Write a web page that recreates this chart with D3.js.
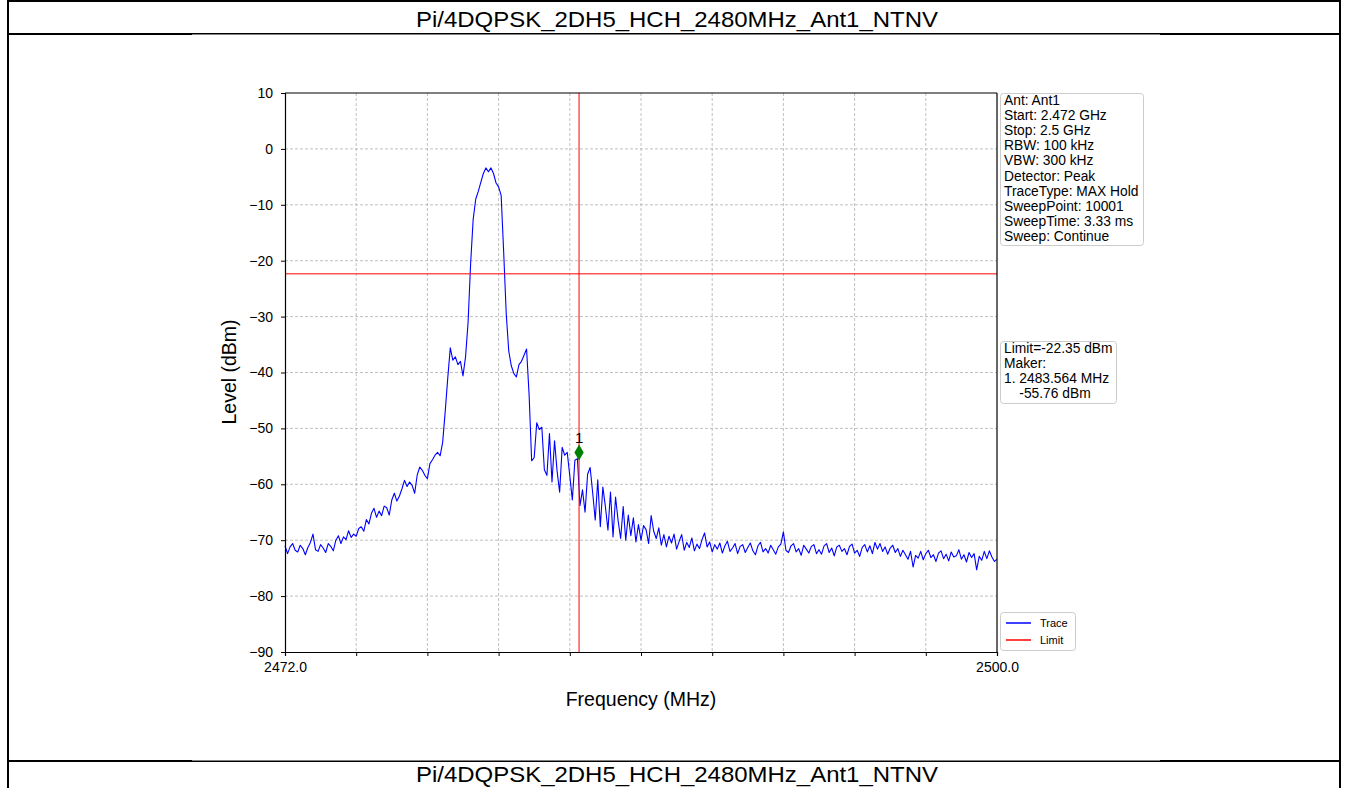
<!DOCTYPE html>
<html><head><meta charset="utf-8">
<script src="https://cdn.jsdelivr.net/npm/d3@7"></script>
<style>
body{margin:0;background:#fff}
svg{display:block;font-family:"Liberation Sans",Arial,sans-serif}
</style>
</head><body>
<svg id="c" width="1348" height="788"></svg>
<script>
// ---------------- data ----------------
const titleText = "Pi/4DQPSK_2DH5_HCH_2480MHz_Ant1_NTNV";
const freqStart = 2472.0;
const freqStep = 0.1; // MHz between trace samples
const traceLevels = [
// 2472.x
-71.0,-72.4,-71.2,-70.6,-71.8,-72.1,-70.9,-71.5,-72.6,-71.3,
// 2473.x
-70.4,-68.9,-71.7,-72.0,-70.8,-71.4,-72.2,-70.6,-71.1,-71.9,
// 2474.x
-70.0,-69.2,-70.6,-69.4,-69.9,-68.3,-69.5,-68.9,-69.3,-67.9,
// 2475.x
-67.6,-68.4,-66.3,-67.1,-65.2,-64.3,-65.9,-64.8,-65.6,-63.9,
// 2476.x
-64.2,-65.5,-62.8,-61.6,-63.0,-62.1,-60.8,-59.3,-60.4,-59.6,
// 2477.x
-60.2,-61.6,-58.3,-56.9,-57.5,-58.4,-59.0,-56.3,-55.6,-54.8,
// 2478.x
-54.3,-54.9,-52.5,-47.0,-41.0,-35.6,-37.8,-37.2,-38.6,-38.0,
// 2479.x
-40.6,-37.2,-31.0,-20.5,-12.6,-9.0,-7.6,-6.0,-4.4,-3.4,
// 2480.x
-4.1,-3.4,-4.4,-6.1,-6.8,-8.3,-18.5,-29.5,-36.2,-38.8,
// 2481.x
-40.2,-40.8,-38.6,-38.0,-36.9,-35.8,-44.0,-55.8,-55.2,-49.0,
// 2482.x
-50.2,-49.8,-57.4,-58.4,-50.9,-59.6,-52.2,-57.6,-61.4,-53.4,
// 2483.x
-54.8,-54.3,-58.5,-62.8,-55.7,-55.4,-63.8,-61.0,-65.0,-58.2,
// 2484.x
-57.0,-61.5,-66.4,-59.2,-67.6,-60.5,-64.0,-68.2,-61.4,-69.4,
// 2485.x
-62.3,-66.5,-69.7,-64.0,-70.0,-65.5,-69.2,-66.0,-70.3,-67.2,
// 2486.x
-70.0,-67.4,-68.1,-70.6,-65.6,-68.4,-69.7,-67.8,-70.9,-69.0,
// 2487.x
-71.2,-69.3,-70.5,-68.9,-71.6,-70.2,-69.0,-71.8,-70.4,-71.3,
// 2488.x
-69.6,-71.9,-70.7,-71.5,-69.9,-68.7,-71.2,-70.3,-72.1,-70.8,
// 2489.x
-71.6,-70.5,-72.3,-71.0,-70.2,-72.0,-71.4,-70.6,-72.4,-71.1,
// 2490.x
-70.8,-72.2,-71.3,-70.5,-71.9,-72.6,-71.0,-70.4,-72.1,-71.5,
// 2491.x
-72.3,-70.9,-71.7,-72.5,-71.2,-70.7,-68.5,-71.8,-72.2,-71.0,
// 2492.x
-70.6,-72.1,-71.5,-72.7,-70.9,-71.6,-72.3,-71.1,-70.8,-72.4,
// 2493.x
-71.7,-72.5,-71.0,-70.6,-72.2,-71.4,-72.8,-71.2,-70.9,-72.0,
// 2494.x
-71.5,-72.6,-71.1,-70.7,-72.3,-71.8,-72.9,-71.3,-70.8,-72.1,
// 2495.x
-71.0,-72.4,-70.4,-71.6,-70.6,-72.0,-71.2,-72.5,-71.4,-70.9,
// 2496.x
-72.2,-71.5,-72.9,-71.8,-72.6,-73.4,-72.0,-74.8,-72.7,-73.2,
// 2497.x
-72.0,-73.5,-72.4,-71.8,-73.1,-72.6,-73.8,-72.3,-71.9,-73.3,
// 2498.x
-72.5,-73.7,-72.1,-73.0,-72.8,-71.7,-73.4,-72.6,-73.9,-72.2,
// 2499.x
-73.1,-72.4,-75.3,-72.9,-73.6,-72.0,-73.3,-71.9,-73.0,-73.8,
// 2500.0
-73.4
];
const limitLevel = -22.35;
const markerFreq = 2483.564;
const markerPlotLevel = -54.3;   // where the diamond sits in the picture
const xDomain = [2472, 2500];
const yDomain = [-90, 10];
const xTicks = [2472, 2474.8, 2477.6, 2480.4, 2483.2, 2486, 2488.8, 2491.6, 2494.4, 2497.2, 2500];
const xTickLabels = ["2472.0","","","","","","","","","","2500.0"];
const yTicks = [10, 0, -10, -20, -30, -40, -50, -60, -70, -80, -90];
const infoLines = ["Ant: Ant1","Start: 2.472 GHz","Stop: 2.5 GHz","RBW: 100 kHz","VBW: 300 kHz",
  "Detector: Peak","TraceType: MAX Hold","SweepPoint: 10001","SweepTime: 3.33 ms","Sweep: Continue"];
const limitLines = ["Limit=-22.35 dBm","Maker:","1. 2483.564 MHz","    -55.76 dBm"];
const legendItems = [{name:"Trace", color:"#0000ff"},{name:"Limit", color:"#ff0000"}];

// ---------------- drawing ----------------
const svg = d3.select("#c");
const L = 285, R = 997, T = 93, B = 652;
const x = d3.scaleLinear().domain(xDomain).range([L, R]);
const y = d3.scaleLinear().domain(yDomain).range([B, T]);

// page frame
const frame = svg.append("g").attr("stroke","#000").attr("fill","none");
frame.append("line").attr("x1",8).attr("x2",1340).attr("y1",1).attr("y2",1).attr("stroke-width",2);
frame.append("line").attr("x1",8).attr("x2",1340).attr("y1",34).attr("y2",34).attr("stroke-width",2);
frame.append("line").attr("x1",8).attr("x2",1340).attr("y1",761).attr("y2",761).attr("stroke-width",2);
frame.append("line").attr("x1",8).attr("x2",8).attr("y1",0).attr("y2",788).attr("stroke-width",2);
frame.append("line").attr("x1",1340).attr("x2",1340).attr("y1",0).attr("y2",788).attr("stroke-width",2);
// chart image white background
svg.append("rect").attr("x",192).attr("y",34.5).attr("width",968).attr("height",726).attr("fill","#fff");

svg.append("text").attr("x",677).attr("y",27).attr("text-anchor","middle")
  .attr("font-size",22).attr("textLength",522).attr("lengthAdjust","spacingAndGlyphs").text(titleText);
svg.append("text").attr("x",677).attr("y",782).attr("text-anchor","middle")
  .attr("font-size",22).attr("textLength",522).attr("lengthAdjust","spacingAndGlyphs").text(titleText);

// grid
const grid = svg.append("g").attr("stroke","#b0b0b0").attr("stroke-width",0.8).attr("stroke-dasharray","3,2");
grid.selectAll(".gx").data(xTicks.slice(1,-1)).join("line")
  .attr("x1",d=>x(d)).attr("x2",d=>x(d)).attr("y1",T).attr("y2",B);
grid.selectAll(".gy").data(yTicks.slice(1,-1)).join("line")
  .attr("x1",L).attr("x2",R).attr("y1",d=>y(d)).attr("y2",d=>y(d));

// trace
const traceData = traceLevels.map((v,i)=>[freqStart + i*freqStep, v]);
svg.append("path").datum(traceData).attr("fill","none").attr("stroke","#0000ff").attr("stroke-width",1.1)
  .attr("stroke-linejoin","round")
  .attr("d", d3.line().x(d=>x(d[0])).y(d=>y(d[1])));

// limit & marker lines
svg.append("line").attr("x1",L).attr("x2",R).attr("y1",y(limitLevel)).attr("y2",y(limitLevel))
  .attr("stroke","#ff0000").attr("stroke-width",1);
svg.append("line").attr("x1",x(markerFreq)).attr("x2",x(markerFreq)).attr("y1",T).attr("y2",B)
  .attr("stroke","#ff0000").attr("stroke-width",1);

// marker diamond
svg.append("path").attr("d", d3.symbol().type(d3.symbolDiamond).size(75)())
  .attr("transform",`translate(${x(markerFreq)},${y(markerPlotLevel)})`).attr("fill","#008000");
svg.append("text").attr("x",x(markerFreq)).attr("y",y(markerPlotLevel)-9).attr("text-anchor","middle")
  .attr("font-size",15).text("1");

// axes
const fmt = d => d < 0 ? "\u2212" + Math.abs(d) : String(d);
const yAxis = svg.append("g").attr("transform",`translate(${L},0)`)
  .call(d3.axisLeft(y).tickValues(yTicks).tickSize(4).tickPadding(8).tickFormat(fmt));
const xAxis = svg.append("g").attr("transform",`translate(0,${B})`)
  .call(d3.axisBottom(x).tickValues(xTicks).tickSize(4).tickPadding(6).tickFormat((d,i)=>xTickLabels[i]));
[yAxis,xAxis].forEach(a=>{
  a.selectAll("text").attr("font-size",14).attr("font-family","Liberation Sans, Arial, sans-serif").attr("fill","#000");
  a.selectAll("line").attr("stroke","#000");
  a.select(".domain").attr("stroke","#000").attr("stroke-width",1.2);
});
svg.append("line").attr("x1",L).attr("x2",R).attr("y1",T).attr("y2",T).attr("stroke","#000").attr("stroke-width",1.2);
svg.append("line").attr("x1",R).attr("x2",R).attr("y1",T).attr("y2",B).attr("stroke","#000").attr("stroke-width",1.2);

svg.append("text").attr("transform","translate(236,372) rotate(-90)").attr("text-anchor","middle")
  .attr("font-size",19.5).text("Level (dBm)");
svg.append("text").attr("x",641).attr("y",706).attr("text-anchor","middle")
  .attr("font-size",19.5).text("Frequency (MHz)");

// info box
function box(x0,y0,w,h){
  svg.append("rect").attr("x",x0).attr("y",y0).attr("width",w).attr("height",h).attr("rx",3)
    .attr("fill","#fff").attr("stroke","#cccccc").attr("stroke-width",1);
}
box(1000.5,93.5,143,152);
svg.append("g").selectAll("text").data(infoLines).join("text")
  .attr("x",1004).attr("y",(d,i)=>105+i*15.1).attr("font-size",13.8).text(d=>d);
box(1000.5,341.5,116,62);
svg.append("g").selectAll("text").data(limitLines).join("text")
  .attr("x",1004).attr("y",(d,i)=>353+i*15.1).attr("font-size",13.8)
  .style("white-space","pre").text(d=>d);
box(1000.5,612.5,75,38);
const lg = svg.append("g").selectAll("g").data(legendItems).join("g")
  .attr("transform",(d,i)=>`translate(0,${623+i*17})`);
lg.append("line").attr("x1",1006).attr("x2",1031).attr("stroke",d=>d.color).attr("stroke-width",1.5);
lg.append("text").attr("x",1040).attr("y",4).attr("font-size",11).text(d=>d.name);
</script>
</body></html>
